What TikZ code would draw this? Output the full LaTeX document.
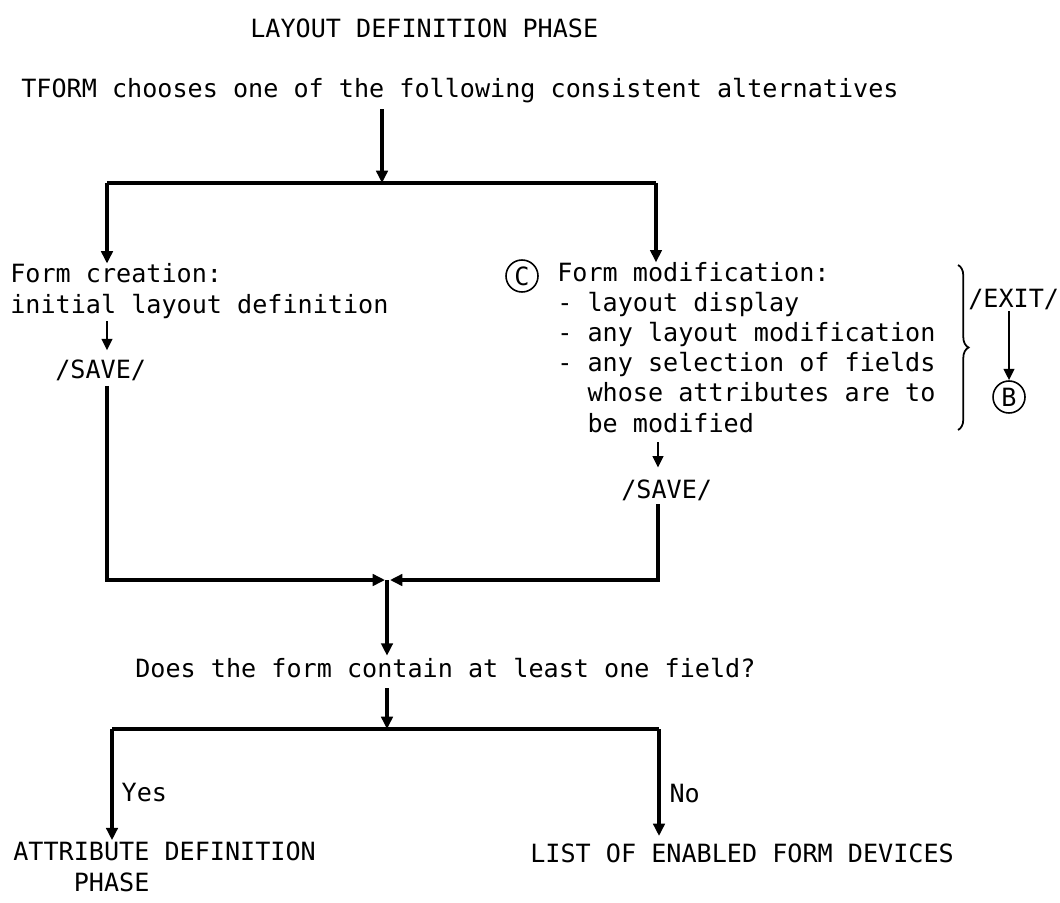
\documentclass[tikz,border=0pt]{standalone}
\usepackage{fontspec}
\usetikzlibrary{arrows.meta, decorations.pathreplacing, calc}
\newfontfamily\flowfont{DejaVu Sans Mono}
\newcommand{\flowsize}{\fontsize{14.3pt}{17.1pt}\selectfont}
\newcommand{\subind}{\hphantom{-\ }}

\tikzset{
  flowtext/.style={font=\flowfont\flowsize, inner sep=0pt, anchor=base west, align=left},
  flowline/.style={line width=2pt},
  flowarrow/.style={flowline, -{Triangle[length=7pt, width=6.5pt]}},
  smallarrow/.style={line width=1.4pt, -{Triangle[length=6.5pt, width=6pt]}},
  connector/.style={circle, draw, line width=0.9pt, minimum size=0.64cm, inner sep=0pt, font=\flowfont\flowsize}
}

\begin{document}
\begin{tikzpicture}[x=0.02cm, y=-0.02cm]
    \useasboundingbox (0,0) rectangle (1060,902);

    % === HEADER ===
    \node[flowtext] (title) at (250,38) {LAYOUT DEFINITION PHASE};
    \node[flowtext] (choose) at (21,98) {TFORM chooses one of the following consistent alternatives};

    % Split into the two alternatives
    \coordinate (jtop) at (382,183);
    \coordinate (jl) at (107,183);
    \coordinate (jr) at (656,183);
    \draw[flowarrow, shorten <=3pt] (jtop |- choose.south) -- (jtop);
    \draw[flowline] (jl) -- (jr);

    % === LEFT: FORM CREATION ===
    % (base anchor = last line of a multi-line node)
    \node[flowtext] (create) at (10,313) {Form creation:\\initial layout definition};
    \node[flowtext] (save1) at (55,378) {/SAVE/};
    \draw[flowarrow] (jl) -- (jl |- create.north);
    \draw[smallarrow, shorten <=1.5pt, shorten >=5pt] (create.south -| jl) -- (save1.north -| jl);

    % === RIGHT: FORM MODIFICATION ===
    \node[connector] (markC) at (522,276) {C};
    \node[flowtext] (modify) at (557,432) {Form modification:\\
        - layout display\\
        - any layout modification\\
        - any selection of fields\\
        \subind whose attributes are to\\
        \subind be modified};
    \draw[flowarrow] (jr) -- (jr |- modify.north);

    % Exit branch
    \draw[decorate, decoration={brace, amplitude=6pt}, line width=1pt] (958,265) -- (958,430);
    \node[flowtext] (exit) at (968,307) {/EXIT/};
    \node[connector] (markB) at (1009,397) {B};
    \draw[smallarrow, shorten <=1pt] (exit.south -| markB) -- (markB.north);

    \coordinate (jr2) at (658,0);
    \node[flowtext] (save2) at (621,498) {/SAVE/};
    \draw[smallarrow, shorten <=5.5pt, shorten >=6.5pt] (modify.south -| jr2) -- (save2.north -| jr2);

    % === MERGE ===
    \coordinate (jmid) at (387,580);
    \coordinate (mL) at (385,580);
    \coordinate (mR) at (390,580);
    \draw[flowarrow, shorten <=3pt] (save1.south -| jl) |- (mL);
    \draw[flowarrow, shorten <=2pt] (save2.south -| jr2) |- (mR);

    % === FIELD TEST ===
    \node[flowtext] (quest) at (135,677) {Does the form contain at least one field?};
    \draw[flowarrow, shorten >=1pt] (jmid) -- (jmid |- quest.north);

    \coordinate (jq) at (387,729);
    \coordinate (bl) at (112,729);
    \coordinate (br) at (659,729);
    \draw[flowarrow, shorten <=6pt] (quest.south -| jq) -- (jq);
    \draw[flowline] (bl) -- (br);

    \node[flowtext] (attr) at (13,891) {ATTRIBUTE DEFINITION\\\hphantom{ATTR}PHASE};
    \node[flowtext] (devices) at (530,862) {LIST OF ENABLED FORM DEVICES};
    \draw[flowarrow, shorten >=1pt] (bl) -- node[pos=0.56, right=4.5pt, flowtext, anchor=west] {Yes} (bl |- attr.north);
    \draw[flowarrow, shorten >=4pt] (br) -- node[pos=0.57, right=5pt, flowtext, anchor=west] {No} (br |- devices.north);

\end{tikzpicture}
\end{document}
